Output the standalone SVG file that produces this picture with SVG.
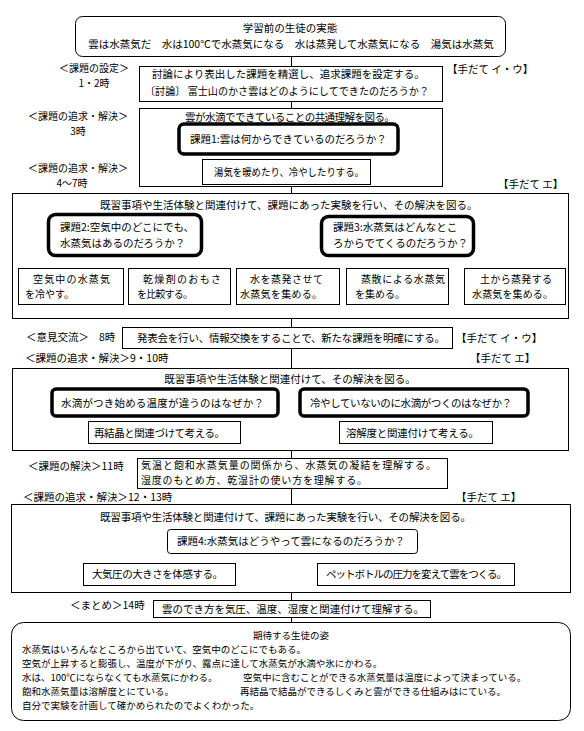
<svg xmlns="http://www.w3.org/2000/svg" width="584" height="731" viewBox="0 0 584 731">
<style>
text{font-family:"Noto Sans CJK JP","Noto Sans CJK SC",sans-serif;font-size:10.5px;fill:#000}
.s{font-size:9.5px}
.t{font-size:10px}
.m{text-anchor:middle}
.b{fill:#fff;stroke:#000;stroke-width:1}
.k{fill:#fff;stroke:#000;stroke-width:3.5}
.ln{fill:none;stroke:#000;stroke-width:1}
</style>
<rect width="584" height="731" fill="#fff"/>
<g id="connectors" class="ln">
<path d="M291.5 56.5V66.5M291.5 101.5V108.5M291.5 186.5V193.5"/>
<path d="M125.5 256V261.5M72.5 268.5V261.5H180.5V268.5M402.5 256V268.5M288.5 268.5V261.5H515.5V268.5"/>
<path d="M72.5 304.5V308.5H180.5V304.5M125.5 308.5V314.5M288.5 304.5V308.5H515.5V304.5M402.5 304.5V314.5M125.5 314.5H402.5M291.5 314.5V327.5"/>
<path d="M291.5 348.5V368.5"/>
<path d="M162.5 443.5V446.5H416.5V443.5M291.5 446.5V458.5"/>
<path d="M291.5 488.5V504.5"/>
<path d="M291.5 553.5V557.5M155.5 563.5V557.5H427.5V563.5M155.5 585.5V589.5H427.5V585.5M291.5 589.5V600.5"/>
<path d="M291.5 617.5V622.5"/>
</g>
<g id="n-before">
<rect class="b" x="75.5" y="16.5" width="430" height="40" rx="7"/>
<text class="m" x="290" y="32">学習前の生徒の実態</text>
<text class="m" x="291" y="48">雲は水蒸気だ　水は100℃で水蒸気になる　水は蒸発して水蒸気になる　湯気は水蒸気</text>
</g>
<g id="n-set">
<text class="m t" x="94" y="72">＜課題の設定＞</text>
<text class="m t" x="94" y="87">1・2時</text>
<rect class="b" x="139.5" y="66.5" width="303" height="35"/>
<text x="152" y="78">討論により表出した課題を精選し、追求課題を設定する。</text>
<text x="145" y="95" textLength="284" lengthAdjust="spacingAndGlyphs">〔討論〕 富士山のかさ雲はどのようにしてできたのだろうか？</text>
<text x="447" y="73">【手だて イ・ウ】</text>
</g>
<g id="n-h3">
<text class="m t" x="78" y="120">＜課題の追求・解決＞</text>
<text class="m t" x="78" y="135">3時</text>
<rect class="b" x="139.5" y="108.5" width="303" height="78"/>
<text class="m" x="290" y="121" textLength="210">雲が水滴でできていることの共通理解を図る。</text>
<rect class="k" x="179" y="124" width="219" height="30" rx="5"/>
<text x="190" y="143">課題1:雲は何からできているのだろうか？</text>
<rect class="b" x="202.5" y="159.5" width="168" height="25"/>
<text x="214" y="176" textLength="150" lengthAdjust="spacingAndGlyphs">湯気を暖めたり、冷やしたりする。</text>
</g>
<g id="n-h47">
<text class="m t" x="78" y="172">＜課題の追求・解決＞</text>
<text class="m t" x="72" y="187">4～7時</text>
<text x="498" y="188">【手だて エ】</text>
<rect class="b" x="12.5" y="193.5" width="556" height="125"/>
<text x="100" y="209">既習事項や生活体験と関連付けて、課題にあった実験を行い、その解決を図る。</text>
</g>
<g id="n-k2">
<rect class="k" x="48.5" y="214.5" width="153" height="41" rx="7"/>
<text x="60" y="231">課題2:空気中のどこにでも、</text>
<text x="60" y="247">水蒸気はあるのだろうか？</text>
</g>
<g id="n-k3">
<rect class="k" x="321.5" y="216.5" width="152" height="39" rx="7"/>
<text x="333" y="231">課題3:水蒸気はどんなとこ</text>
<text x="333" y="247">ろからでてくるのだろうか？</text>
</g>
<g id="n-a">
<rect class="b" x="18.5" y="268.5" width="105" height="36"/>
<text class="t" x="33" y="283" textLength="77">空気中の水蒸気</text>
<text class="t" x="25" y="298">を冷やす。</text>
</g>
<g id="n-b">
<rect class="b" x="128.5" y="268.5" width="102" height="36"/>
<text class="t" x="143" y="283" textLength="78">乾燥剤のおもさ</text>
<text class="t" x="137" y="298" textLength="56">を比較する。</text>
</g>
<g id="n-c">
<rect class="b" x="236.5" y="268.5" width="103" height="36"/>
<text class="t" x="250" y="283" textLength="73">水を蒸発させて</text>
<text class="t" x="240" y="298" textLength="82">水蒸気を集める。</text>
</g>
<g id="n-d">
<rect class="b" x="346.5" y="268.5" width="102" height="36"/>
<text class="t" x="361" y="283" textLength="84">蒸散による水蒸気</text>
<text class="t" x="355" y="298">を集める。</text>
</g>
<g id="n-e">
<rect class="b" x="464.5" y="268.5" width="101" height="36"/>
<text class="t" x="480" y="283" textLength="72">土から蒸発する</text>
<text class="t" x="472" y="298" textLength="81">水蒸気を集める。</text>
</g>
<g id="n-8">
<text x="26" y="341">＜意見交流＞</text>
<text x="99" y="341">8時</text>
<rect class="b" x="122.5" y="327.5" width="330" height="21"/>
<text x="137" y="342" textLength="308">発表会を行い、情報交換をすることで、新たな課題を明確にする。</text>
<text x="456" y="342">【手だて イ・ウ】</text>
</g>
<g id="n-910">
<text x="25" y="362">＜課題の追求・解決＞9・10時</text>
<text x="470" y="362">【手だて エ】</text>
<rect class="b" x="12.5" y="368.5" width="556" height="82"/>
<text class="m" x="290" y="383">既習事項や生活体験と関連付けて、その解決を図る。</text>
<rect class="k" x="52" y="389" width="226" height="27" rx="4"/>
<text x="61" y="407" textLength="203">水滴がつき始める温度が違うのはなぜか？</text>
<rect class="k" x="300" y="389" width="228" height="27" rx="4"/>
<text x="310" y="407" textLength="202">冷やしていないのに水滴がつくのはなぜか？</text>
<rect class="b" x="88.5" y="421.5" width="152" height="22"/>
<text x="94" y="437" textLength="131">再結晶と関連づけて考える。</text>
<rect class="b" x="339.5" y="421.5" width="153" height="22"/>
<text x="346" y="437" textLength="133">溶解度と関連付けて考える。</text>
</g>
<g id="n-11">
<text x="28" y="470">＜課題の解決＞11時</text>
<rect class="b" x="137.5" y="458.5" width="310" height="30"/>
<text class="t" x="141" y="469" textLength="295">気温と飽和水蒸気量の関係から、水蒸気の凝結を理解する。</text>
<text class="t" x="141" y="484" textLength="226">湿度のもとめ方、乾湿計の使い方を理解する。</text>
</g>
<g id="n-1213">
<text x="23" y="501">＜課題の追求・解決＞12・13時</text>
<text x="456" y="501">【手だて エ】</text>
<rect class="b" x="11.5" y="504.5" width="559" height="88"/>
<text x="100" y="521" textLength="371">既習事項や生活体験と関連付けて、課題にあった実験を行い、その解決を図る。</text>
<rect class="b" x="167.5" y="529.5" width="250" height="24" rx="3"/>
<text x="177" y="545">課題4:水蒸気はどうやって雲になるのだろうか？</text>
<rect class="b" x="83.5" y="563.5" width="152" height="22"/>
<text x="92" y="578" textLength="131">大気圧の大きさを体感する。</text>
<rect class="b" x="317.5" y="563.5" width="197" height="22"/>
<text x="326" y="578" textLength="181">ペットボトルの圧力を変えて雲をつくる。</text>
</g>
<g id="n-14">
<text x="70" y="609">＜まとめ＞14時</text>
<rect class="b" x="153.5" y="600.5" width="277" height="17"/>
<text x="162" y="613" textLength="262">雲のでき方を気圧、温度、湿度と関連付けて理解する。</text>
</g>
<g id="n-goal">
<rect class="b" x="11.5" y="622.5" width="559" height="98" rx="12"/>
<text class="m s" x="291" y="639">期待する生徒の姿</text>
<text class="s" x="22" y="653">水蒸気はいろんなところから出ていて、空気中のどこにでもある。</text>
<text class="s" x="22" y="667">空気が上昇すると膨張し、温度が下がり、露点に達して水蒸気が水滴や氷にかわる。</text>
<text class="s" x="22" y="681">水は、100℃にならなくても水蒸気にかわる。</text>
<text class="s" x="243" y="681">空気中に含むことができる水蒸気量は温度によって決まっている。</text>
<text class="s" x="22" y="695">飽和水蒸気量は溶解度とにている。</text>
<text class="s" x="240" y="695">再結晶で結晶ができるしくみと雲ができる仕組みはにている。</text>
<text class="s" x="22" y="709">自分で実験を計画して確かめられたのでよくわかった。</text>
</g>
</svg>
